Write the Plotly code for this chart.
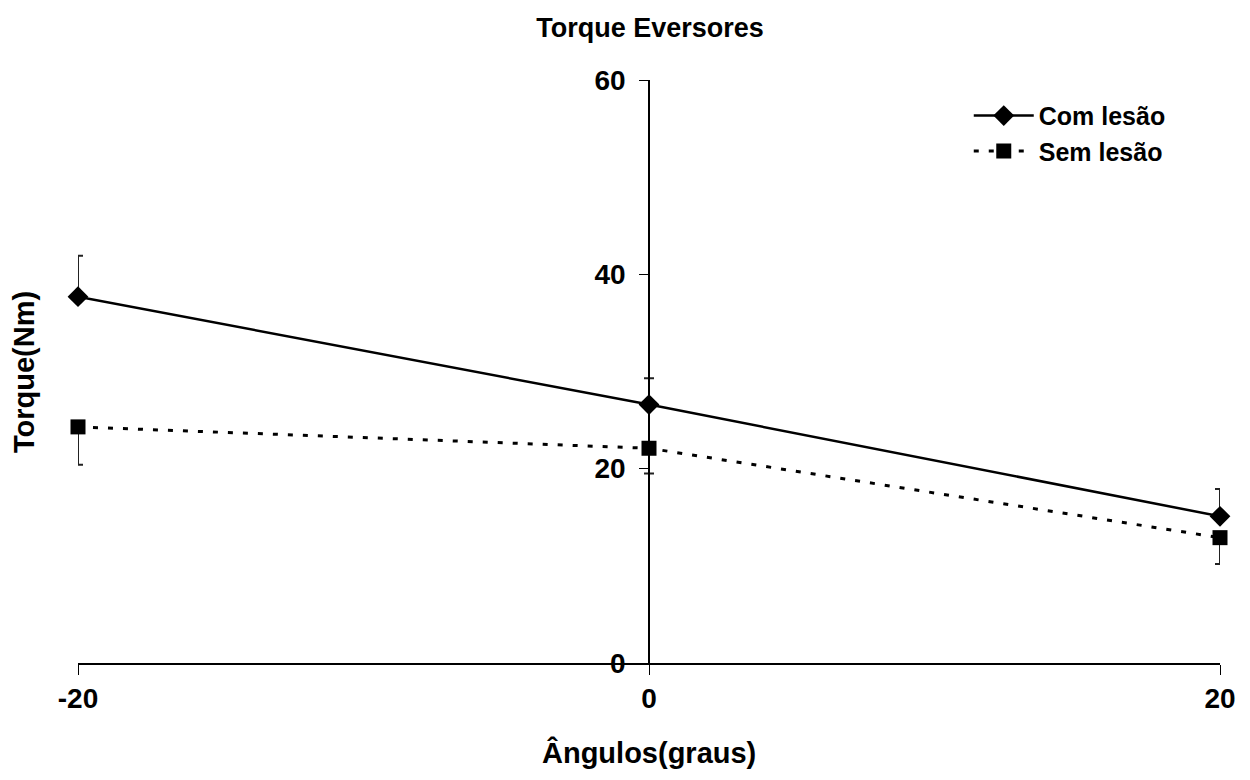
import plotly.graph_objects as go

angles = [-20, 0, 20]
com_lesao = [37.7, 26.6, 15.1]
com_lesao_err = [4.2, 2.7, 2.8]
sem_lesao = [24.3, 22.1, 12.9]
sem_lesao_err = [3.9, 2.6, 2.7]

x_ticks = [-20, 0, 20]
y_ticks = [0, 20, 40, 60]

FONT = "Liberation Sans, Arial, sans-serif"

fig = go.Figure()
fig.add_trace(go.Scatter(
    x=angles, y=com_lesao, name="<b>Com lesão</b>", mode="lines+markers",
    line=dict(color="black", width=2.5),
    marker=dict(symbol="diamond", size=16, color="black"),
    error_y=dict(type="data", symmetric=False, array=com_lesao_err,
                 arrayminus=[0, 0, 0], color="#222222", thickness=2, width=5),
    cliponaxis=False,
))
fig.add_trace(go.Scatter(
    x=angles, y=sem_lesao, name="<b>Sem lesão</b>", mode="lines+markers",
    line=dict(color="black", width=3, dash="5px,10px"),
    marker=dict(symbol="square", size=15, color="black"),
    error_y=dict(type="data", symmetric=False, array=[0, 0, 0],
                 arrayminus=sem_lesao_err, color="#222222", thickness=2, width=5),
    cliponaxis=False,
))

fig.update_layout(
    width=1250, height=780,
    margin=dict(l=78, r=30, t=80, b=117),
    paper_bgcolor="white", plot_bgcolor="white",
    font=dict(family=FONT, color="black"),
    title=dict(text="<b>Torque Eversores</b>", x=0.52, xanchor="center",
               y=1 - 28 / 780, yanchor="middle", font=dict(size=27)),
    xaxis=dict(range=[-20, 20], tickvals=x_ticks,
               ticktext=[f"<b>{v}</b>" for v in x_ticks],
               showgrid=False, zeroline=False, showline=True, linecolor="black",
               linewidth=1.5, ticks="outside", ticklen=10, tickcolor="black",
               tickfont=dict(size=28), domain=[0, 1]),
    yaxis=dict(range=[0, 60], tickvals=y_ticks,
               ticktext=[f"<b>{v}</b>" for v in y_ticks],
               showgrid=False, zeroline=False, showline=True, linecolor="black",
               linewidth=1.5, ticks="outside", ticklen=9, tickcolor="black",
               tickfont=dict(size=28), anchor="free", position=0.5,
               ticklabelstandoff=8),
    legend=dict(x=0.78, y=0.978, xanchor="left", yanchor="top",
                font=dict(size=25), itemwidth=60, bgcolor="rgba(0,0,0,0)",
                tracegroupgap=0),
    annotations=[
        dict(text="<b>Ângulos(graus)</b>", xref="paper", yref="paper",
             x=0.5, y=-(752 - 663) / 583, xanchor="center", yanchor="middle",
             showarrow=False, font=dict(size=29)),
        dict(text="<b>Torque(Nm)</b>", xref="paper", yref="paper",
             x=-(78 - 24) / 1142, y=1 - (372 - 80) / 583, xanchor="center",
             yanchor="middle", textangle=-90, showarrow=False, font=dict(size=29)),
    ],
)

fig.write_html("out.html")
